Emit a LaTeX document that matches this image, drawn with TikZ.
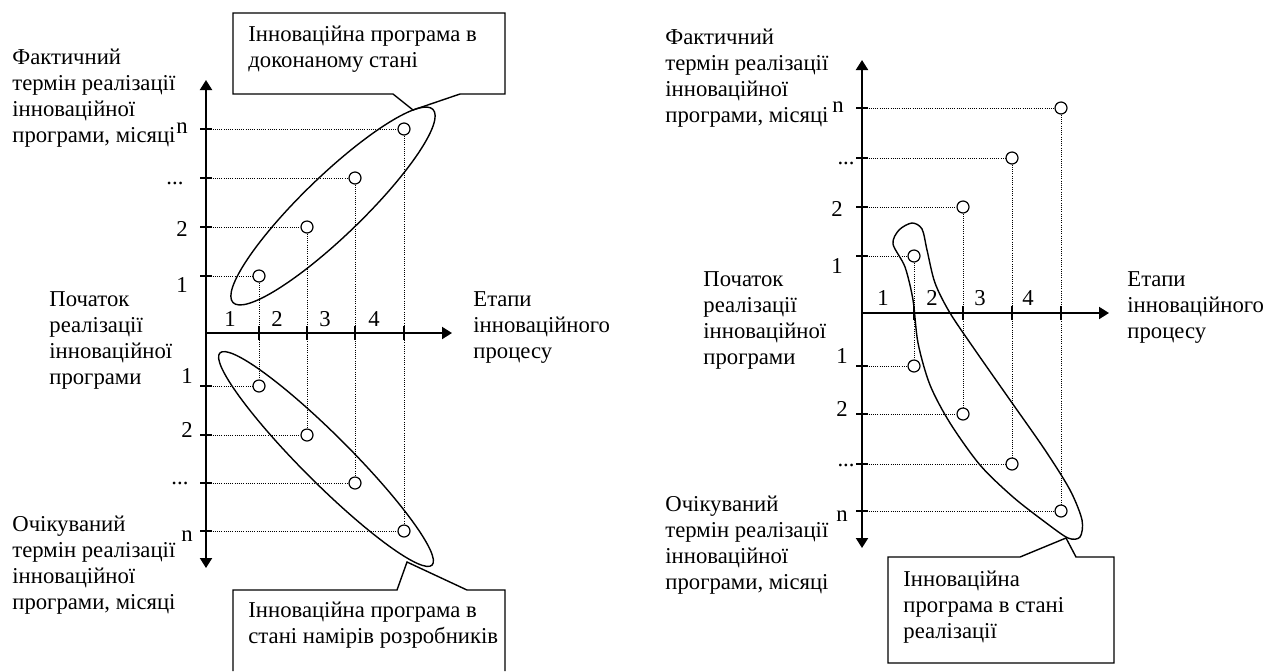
\documentclass[tikz,border=0pt]{standalone}
\usepackage{fontspec}
\setmainfont{Liberation Serif}
\usepackage{tikz}
\usetikzlibrary{arrows.meta,calc}

\begin{document}
\begin{tikzpicture}[x=0.5pt,y=-0.5pt,font=\fontsize{11.35}{13}\selectfont,
  axis/.style={line width=1pt,-{Triangle[length=5pt,width=6pt]}},
  tickmark/.style={line width=0.8pt},
  guide/.style={line width=0.4pt,dash pattern=on 0.5pt off 0.6pt},
  pnt/.style={circle,draw,line width=0.6pt,fill=white,minimum size=6pt,inner sep=0pt},
  ring/.style={line width=0.7pt},
  lbl/.style={anchor=north west,align=left,inner sep=0pt},
  num/.style={inner sep=0pt}]
\useasboundingbox (0,0) rectangle (1277,671);

% ---- left: intended vs. completed programme
\coordinate (o1) at (206,333);
\coordinate (t1) at (206,80);
\coordinate (b1) at (206,568);
\coordinate (r1) at (452,333);
\draw[axis] (o1) -- (t1);
\draw[axis] (o1) -- (b1);
\draw[axis] (o1) -- (r1);

\node[pnt] (u1) at (259,276) {};
\node[pnt] (u2) at (307,227) {};
\node[pnt] (u3) at (355,178) {};
\node[pnt] (u4) at (404,129) {};
\node[pnt] (e1) at (259,386) {};
\node[pnt] (e2) at (307,435) {};
\node[pnt] (e3) at (355,483) {};
\node[pnt] (e4) at (404,531) {};

\draw[tickmark] ($(u1|-o1)+(0,-7)$) -- ($(u1|-o1)+(0,7)$)
  ($(u2|-o1)+(0,-7)$) -- ($(u2|-o1)+(0,7)$)
  ($(u3|-o1)+(0,-7)$) -- ($(u3|-o1)+(0,7)$)
  ($(u4|-o1)+(0,-7)$) -- ($(u4|-o1)+(0,7)$);
\draw[tickmark] ($(u1-|o1)+(-6,0)$) -- ($(u1-|o1)+(6,0)$)
  ($(u2-|o1)+(-6,0)$) -- ($(u2-|o1)+(6,0)$)
  ($(u3-|o1)+(-6,0)$) -- ($(u3-|o1)+(6,0)$)
  ($(u4-|o1)+(-6,0)$) -- ($(u4-|o1)+(6,0)$)
  ($(e1-|o1)+(-6,0)$) -- ($(e1-|o1)+(6,0)$)
  ($(e2-|o1)+(-6,0)$) -- ($(e2-|o1)+(6,0)$)
  ($(e3-|o1)+(-6,0)$) -- ($(e3-|o1)+(6,0)$)
  ($(e4-|o1)+(-6,0)$) -- ($(e4-|o1)+(6,0)$);
\draw[guide] (u1-|o1) -- (u1) (u2-|o1) -- (u2) (u3-|o1) -- (u3) (u4-|o1) -- (u4)
  (e1-|o1) -- (e1) (e2-|o1) -- (e2) (e3-|o1) -- (e3) (e4-|o1) -- (e4);
\draw[guide] (u1) -- (e1) (u2) -- (e2) (u3) -- (e3) (u4) -- (e4);

\draw[ring,rotate around={44:(333,206)}] (333,206) ellipse [x radius=139,y radius=30];
\draw[ring,rotate around={-45:(326,459)}] (326,459) ellipse [x radius=150,y radius=24];

\node[num] (lx1) at (230,319) {1};
\node[num] (lx2) at (277,319) {2};
\node[num] (lx3) at (325,319) {3};
\node[num] (lx4) at (374,319) {4};
\node[num] (lu4) at (182,128) {n};
\node[num] (lu3) at (175,183) {...};
\node[num] (lu2) at (182,229) {2};
\node[num] (lu1) at (182,285) {1};
\node[num] (le1) at (187,376) {1};
\node[num] (le2) at (187,430) {2};
\node[num] (le3) at (180,483) {...};
\node[num] (le4) at (187,536) {n};

\node[lbl] (fact1) at (12,49) {Фактичний\\термін реалізації\\інноваційної\\програми, місяці};
\node[lbl] (start1) at (49,291) {Початок\\реалізації\\інноваційної\\програми};
\node[lbl] (plan1) at (12,516) {Очікуваний\\термін реалізації\\інноваційної\\програми, місяці};
\node[lbl] (stage1) at (473,291) {Етапи\\інноваційного\\процесу};

\draw[ring] (233,13) -- (505,13) -- (505,94) -- (460,94) -- (413,110) -- (393,94) -- (233,94) -- cycle;
\node[lbl] (done) at (248,26) {Інноваційна програма в\\доконаному стані};
\draw[ring] (233,671) -- (233,590) -- (397,590) -- (407,562) -- (467,590) -- (505,590) -- (505,671);
\node[lbl] (intent) at (248,602) {Інноваційна програма в\\стані намірів розробників};

% ---- right: programme being carried out
\coordinate (o2) at (862,313);
\coordinate (t2) at (862,60);
\coordinate (b2) at (862,548);
\coordinate (r2) at (1109,313);
\draw[axis] (o2) -- (t2);
\draw[axis] (o2) -- (b2);
\draw[axis] (o2) -- (r2);

\node[pnt] (ru1) at (914,256) {};
\node[pnt] (ru2) at (963,207) {};
\node[pnt] (ru3) at (1012,158) {};
\node[pnt] (ru4) at (1061,108) {};
\node[pnt] (re1) at (914,366) {};
\node[pnt] (re2) at (963,414) {};
\node[pnt] (re3) at (1012,464) {};
\node[pnt] (re4) at (1061,511) {};

\draw[tickmark] ($(ru1|-o2)+(0,-7)$) -- ($(ru1|-o2)+(0,7)$)
  ($(ru2|-o2)+(0,-7)$) -- ($(ru2|-o2)+(0,7)$)
  ($(ru3|-o2)+(0,-7)$) -- ($(ru3|-o2)+(0,7)$)
  ($(ru4|-o2)+(0,-7)$) -- ($(ru4|-o2)+(0,7)$);
\draw[tickmark] ($(ru1-|o2)+(-6,0)$) -- ($(ru1-|o2)+(6,0)$)
  ($(ru2-|o2)+(-6,0)$) -- ($(ru2-|o2)+(6,0)$)
  ($(ru3-|o2)+(-6,0)$) -- ($(ru3-|o2)+(6,0)$)
  ($(ru4-|o2)+(-6,0)$) -- ($(ru4-|o2)+(6,0)$)
  ($(re1-|o2)+(-6,0)$) -- ($(re1-|o2)+(6,0)$)
  ($(re2-|o2)+(-6,0)$) -- ($(re2-|o2)+(6,0)$)
  ($(re3-|o2)+(-6,0)$) -- ($(re3-|o2)+(6,0)$)
  ($(re4-|o2)+(-6,0)$) -- ($(re4-|o2)+(6,0)$);
\draw[guide] (ru1-|o2) -- (ru1) (ru2-|o2) -- (ru2) (ru3-|o2) -- (ru3) (ru4-|o2) -- (ru4)
  (re1-|o2) -- (re1) (re2-|o2) -- (re2) (re3-|o2) -- (re3) (re4-|o2) -- (re4);
\draw[guide] (ru1) -- (re1) (ru2) -- (re2) (ru3) -- (re3) (ru4) -- (re4);

\draw[ring] plot[smooth cycle] coordinates {(912,223) (922,229) (927,250) (935,283)
  (950,313) (975,350) (1010,400) (1045,450) (1070,490) (1082,520) (1080,537)
  (1068,538) (1045,522) (1013,497) (980,465) (950,423) (930,385) (918,343)
  (913,300) (905,267) (893,244) (899,230)};

\node[num] (rx1) at (883,298) {1};
\node[num] (rx2) at (932,298) {2};
\node[num] (rx3) at (980,298) {3};
\node[num] (rx4) at (1028,298) {4};
\node[num] (rlu4) at (838,107) {n};
\node[num] (rlu3) at (846,163) {...};
\node[num] (rlu2) at (837,209) {2};
\node[num] (rlu1) at (837,266) {1};
\node[num] (rle1) at (842,356) {1};
\node[num] (rle2) at (842,409) {2};
\node[num] (rle3) at (846,465) {...};
\node[num] (rle4) at (842,516) {n};

\node[lbl] (fact2) at (665,29) {Фактичний\\термін реалізації\\інноваційної\\програми, місяці};
\node[lbl] (start2) at (703,271) {Початок\\реалізації\\інноваційної\\програми};
\node[lbl] (stage2) at (1127,271) {Етапи\\інноваційного\\процесу};
\node[lbl] (plan2) at (665,496) {Очікуваний\\термін реалізації\\інноваційної\\програми, місяці};

\draw[ring] (888,557) -- (1020,557) -- (1066,538) -- (1076,557) -- (1114,557) -- (1114,663) -- (888,663) -- cycle;
\node[lbl] (run) at (903,571) {Інноваційна\\програма в стані\\реалізації};
\end{tikzpicture}
\end{document}
